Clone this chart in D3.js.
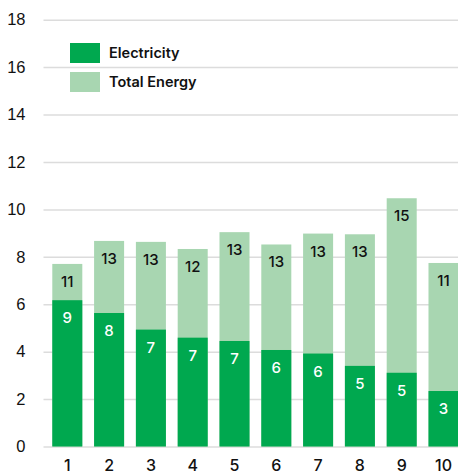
<!DOCTYPE html>
<html>
<head>
<meta charset="utf-8">
<script src="https://cdn.jsdelivr.net/npm/d3@7"></script>
<style>
  body { margin: 0; background: #fff; }
  svg { display: block; font-family: Inter, "Noto Sans", sans-serif; }
</style>
</head>
<body>
<script>
// data
var categories = ["1", "2", "3", "4", "5", "6", "7", "8", "9", "10"];
var electricity = [6.17, 5.63, 4.93, 4.59, 4.45, 4.07, 3.92, 3.40, 3.11, 2.34];
var totalEnergy = [7.70, 8.67, 8.63, 8.33, 9.04, 8.52, 8.98, 8.95, 10.47, 7.74];
var electricityLabels = [9, 8, 7, 7, 7, 6, 6, 5, 5, 3];
var totalLabels = [11, 13, 13, 12, 13, 13, 13, 13, 15, 11];
var yTicks = [0, 2, 4, 6, 8, 10, 12, 14, 16, 18];

var width = 458,
    height = 474;

var darkGreen = "#00a84f",
    lightGreen = "#a8d6b1";

var svg = d3.select("body").append("svg")
  .attr("width", width)
  .attr("height", height);

var x = d3.scaleBand()
  .domain(categories)
  .range([46.4, 464.4])
  .paddingInner(0.282)
  .paddingOuter(0.141);

var y = d3.scaleLinear()
  .domain([0, 18])
  .range([446.5, 19.7]);

/*
 * Grid + y tick labels.
 */
var yAxis = svg.append("g")
  .attr("transform", "translate(43.5,0)")
  .call(d3.axisLeft(y).tickValues(yTicks).tickSize(-(width - 43.5)).tickPadding(18));

yAxis.select(".domain").remove();
yAxis.selectAll(".tick line")
  .attr("stroke", "#dcdcdc")
  .attr("stroke-width", 1.5);
yAxis.selectAll(".tick text")
  .attr("fill", "#111")
  .style("font-size", "16.5px")
  .style("font-weight", 500);

/*
 * Bars: total energy behind, electricity in front.
 */
var rows = categories.map(function(c, i) {
  return { cat: c, elec: electricity[i], total: totalEnergy[i], elecLabel: electricityLabels[i], totalLabel: totalLabels[i] };
});

var g = svg.selectAll(".bar")
  .data(rows)
  .enter().append("g")
  .attr("class", "bar");

g.append("rect")
  .attr("x", function(d) { return x(d.cat); })
  .attr("width", x.bandwidth())
  .attr("y", function(d) { return y(d.total); })
  .attr("height", function(d) { return y(0) - y(d.total); })
  .attr("fill", lightGreen);

g.append("rect")
  .attr("x", function(d) { return x(d.cat); })
  .attr("width", x.bandwidth())
  .attr("y", function(d) { return y(d.elec); })
  .attr("height", function(d) { return y(0) - y(d.elec); })
  .attr("fill", darkGreen);

g.append("text")
  .attr("x", function(d) { return x(d.cat) + x.bandwidth() / 2; })
  .attr("y", function(d) { return y(d.total) + 23; })
  .attr("text-anchor", "middle")
  .attr("fill", "#111")
  .style("font-size", "15px")
  .style("font-weight", 500)
  .text(function(d) { return d.totalLabel; });

g.append("text")
  .attr("x", function(d) { return x(d.cat) + x.bandwidth() / 2; })
  .attr("y", function(d) { return y(d.elec) + 23; })
  .attr("text-anchor", "middle")
  .attr("fill", "#fff")
  .style("font-size", "15px")
  .style("font-weight", 500)
  .text(function(d) { return d.elecLabel; });

/*
 * x labels.
 */
svg.append("g")
  .selectAll("text")
  .data(categories)
  .enter().append("text")
  .attr("x", function(d) { return x(d) + x.bandwidth() / 2; })
  .attr("y", 470.5)
  .attr("text-anchor", "middle")
  .attr("fill", "#111")
  .style("font-size", "16px")
  .style("font-weight", 500)
  .text(function(d) { return d; });

/*
 * Legend.
 */
var legend = svg.append("g")
  .selectAll("g")
  .data([{ name: "Electricity", color: darkGreen }, { name: "Total Energy", color: lightGreen }])
  .enter().append("g")
  .attr("transform", function(d, i) { return "translate(70," + (43 + i * 29) + ")"; });

legend.append("rect")
  .attr("width", 30)
  .attr("height", 20)
  .attr("fill", function(d) { return d.color; });

legend.append("text")
  .attr("x", 39)
  .attr("y", 15)
  .attr("fill", "#111")
  .style("font-size", "14.5px")
  .style("font-weight", 600)
  .text(function(d) { return d.name; });
</script>
</body>
</html>
